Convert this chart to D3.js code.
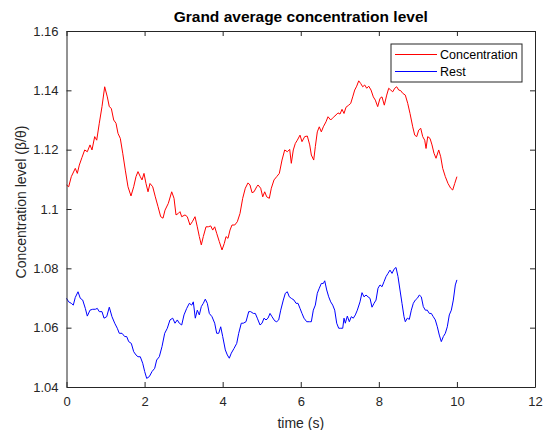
<!DOCTYPE html>
<html>
<head>
<meta charset="utf-8">
<script src="https://cdn.jsdelivr.net/npm/d3@7"></script>
<style>
  body { margin: 0; background: #fff; }
  text { font-family: "Liberation Sans", Arial, sans-serif; fill: #262626; }
</style>
</head>
<body>
<div id="chart"></div>
<script>
// chart values
var concTime = [0.00,0.056,0.123,0.225,0.277,0.328,0.397,0.466,0.533,0.602,0.653,0.722,0.774,0.840,0.909,0.978,1.045,1.096,1.148,1.209,1.268,1.319,1.378,1.440,1.506,1.575,1.652,1.721,1.780,1.831,1.890,1.934,1.985,2.036,2.088,2.139,2.208,2.275,2.344,2.413,2.472,2.523,2.608,2.695,2.754,2.805,2.864,2.907,2.951,3.035,3.094,3.163,3.222,3.292,3.350,3.402,3.453,3.504,3.573,3.632,3.694,3.745,3.796,3.847,3.914,3.983,4.042,4.086,4.137,4.188,4.239,4.308,4.375,4.444,4.513,4.580,4.649,4.700,4.752,4.803,4.872,4.905,4.974,5.026,5.077,5.128,5.195,5.246,5.315,5.384,5.451,5.520,5.589,5.656,5.717,5.758,5.809,5.861,5.912,5.981,6.032,6.101,6.168,6.230,6.271,6.332,6.373,6.424,6.475,6.527,6.578,6.647,6.698,6.767,6.834,6.903,6.954,7.006,7.057,7.108,7.159,7.228,7.280,7.331,7.382,7.433,7.485,7.536,7.587,7.638,7.690,7.741,7.800,7.859,7.910,7.971,8.030,8.081,8.140,8.202,8.253,8.304,8.356,8.407,8.458,8.509,8.560,8.612,8.678,8.740,8.799,8.868,8.919,8.970,9.022,9.073,9.124,9.175,9.209,9.252,9.311,9.362,9.413,9.465,9.534,9.585,9.636,9.703,9.772,9.841,9.892,9.944,10.00];
var concLevel = [1.1081,1.1075,1.1109,1.1137,1.1120,1.1148,1.1174,1.1199,1.1193,1.1216,1.1199,1.1244,1.1232,1.1289,1.1345,1.1412,1.1378,1.1345,1.1339,1.1300,1.1289,1.1255,1.1238,1.1188,1.1131,1.1075,1.1044,1.1075,1.1109,1.1126,1.1109,1.1098,1.1120,1.1086,1.1058,1.1086,1.1075,1.1041,1.1008,1.0974,1.0969,1.0996,1.1019,1.1058,1.1036,1.0980,1.0985,1.0991,1.0974,1.0980,1.0974,1.0946,1.0957,1.0974,1.0940,1.0907,1.0879,1.0907,1.0940,1.0940,1.0943,1.0929,1.0940,1.0918,1.0890,1.0862,1.0884,1.0907,1.0901,1.0929,1.0946,1.0946,1.0957,1.0985,1.1036,1.1070,1.1088,1.1081,1.1055,1.1058,1.1075,1.1081,1.1070,1.1041,1.1058,1.1041,1.1036,1.1070,1.1098,1.1109,1.1120,1.1165,1.1199,1.1193,1.1201,1.1154,1.1199,1.1221,1.1232,1.1249,1.1227,1.1244,1.1246,1.1216,1.1182,1.1165,1.1210,1.1260,1.1277,1.1260,1.1277,1.1294,1.1311,1.1300,1.1309,1.1317,1.1324,1.1320,1.1336,1.1322,1.1343,1.1350,1.1356,1.1378,1.1401,1.1414,1.1432,1.1423,1.1412,1.1418,1.1407,1.1414,1.1401,1.1378,1.1367,1.1345,1.1373,1.1378,1.1350,1.1384,1.1407,1.1401,1.1395,1.1407,1.1412,1.1401,1.1399,1.1390,1.1384,1.1356,1.1322,1.1277,1.1249,1.1244,1.1266,1.1272,1.1244,1.1232,1.1204,1.1244,1.1238,1.1216,1.1188,1.1171,1.1199,1.1176,1.1137,1.1109,1.1086,1.1070,1.1064,1.1086,1.1109];

var restTime = [0.00,0.056,0.123,0.174,0.225,0.295,0.353,0.415,0.482,0.533,0.602,0.671,0.738,0.789,0.840,0.909,0.961,1.030,1.096,1.165,1.235,1.301,1.352,1.422,1.491,1.542,1.593,1.660,1.721,1.780,1.831,1.890,1.952,2.003,2.054,2.121,2.190,2.259,2.310,2.377,2.446,2.515,2.582,2.651,2.720,2.779,2.838,2.889,2.951,3.010,3.079,3.146,3.207,3.248,3.299,3.350,3.402,3.453,3.504,3.555,3.607,3.658,3.727,3.796,3.847,3.899,3.950,4.001,4.068,4.119,4.170,4.221,4.291,4.360,4.411,4.477,4.529,4.598,4.667,4.718,4.785,4.836,4.887,4.957,5.008,5.059,5.110,5.161,5.213,5.264,5.333,5.384,5.435,5.487,5.553,5.605,5.656,5.707,5.758,5.827,5.879,5.930,5.981,6.032,6.083,6.153,6.219,6.271,6.322,6.373,6.424,6.475,6.527,6.578,6.614,6.665,6.716,6.767,6.819,6.870,6.921,6.972,7.024,7.075,7.108,7.141,7.193,7.244,7.295,7.346,7.398,7.449,7.518,7.569,7.620,7.672,7.723,7.774,7.825,7.877,7.928,7.979,8.030,8.082,8.133,8.184,8.235,8.286,8.338,8.389,8.440,8.491,8.542,8.593,8.645,8.678,8.730,8.781,8.832,8.883,8.934,8.986,9.037,9.088,9.139,9.191,9.242,9.293,9.344,9.395,9.447,9.498,9.549,9.600,9.652,9.703,9.754,9.805,9.857,9.908,9.959,10.00];
var restLevel = [1.0699,1.0687,1.0682,1.0676,1.0702,1.0721,1.0699,1.0693,1.0665,1.0639,1.0659,1.0662,1.0662,1.0665,1.0654,1.0654,1.0632,1.0637,1.0669,1.0637,1.0615,1.0598,1.0581,1.0581,1.0570,1.0570,1.0553,1.0547,1.0519,1.0508,1.0502,1.0502,1.0480,1.0452,1.0429,1.0435,1.0452,1.0463,1.0491,1.0502,1.0536,1.0581,1.0598,1.0626,1.0632,1.0615,1.0626,1.0615,1.0609,1.0643,1.0665,1.0682,1.0676,1.0687,1.0632,1.0659,1.0643,1.0671,1.0682,1.0696,1.0682,1.0648,1.0637,1.0615,1.0581,1.0581,1.0603,1.0570,1.0525,1.0508,1.0497,1.0514,1.0530,1.0547,1.0581,1.0615,1.0615,1.0620,1.0654,1.0654,1.0648,1.0648,1.0632,1.0609,1.0615,1.0632,1.0626,1.0632,1.0648,1.0637,1.0623,1.0620,1.0626,1.0659,1.0693,1.0716,1.0721,1.0704,1.0699,1.0693,1.0682,1.0682,1.0665,1.0648,1.0632,1.0620,1.0620,1.0620,1.0659,1.0676,1.0716,1.0733,1.0749,1.0749,1.0758,1.0727,1.0704,1.0687,1.0676,1.0659,1.0615,1.0598,1.0598,1.0598,1.0632,1.0615,1.0639,1.0620,1.0637,1.0632,1.0643,1.0659,1.0687,1.0718,1.0704,1.0710,1.0704,1.0699,1.0669,1.0682,1.0693,1.0733,1.0744,1.0738,1.0755,1.0772,1.0783,1.0794,1.0783,1.0797,1.0803,1.0772,1.0727,1.0682,1.0637,1.0620,1.0632,1.0628,1.0659,1.0682,1.0693,1.0699,1.0710,1.0704,1.0671,1.0659,1.0659,1.0648,1.0648,1.0637,1.0626,1.0603,1.0575,1.0553,1.0570,1.0581,1.0603,1.0643,1.0659,1.0693,1.0744,1.0761];

var xTicks = [0, 2, 4, 6, 8, 10, 12];
var yTicks = [1.04, 1.06, 1.08, 1.1, 1.12, 1.14, 1.16];
var seriesNames = ["Concentration", "Rest"];
var seriesColors = ["#ff0000", "#0000ff"];

var svgWidth = 547;
var svgHeight = 430;

var margin = { top: 31, right: 12, bottom: 43, left: 66.5 };
var width = svgWidth - margin.left - margin.right;
var height = svgHeight - margin.top - margin.bottom;

var svg = d3.select("#chart")
  .append("svg")
  .attr("width", svgWidth)
  .attr("height", svgHeight);

var chartGroup = svg.append("g")
  .attr("transform", `translate(${margin.left}, ${margin.top})`);

var xScale = d3.scaleLinear().domain([0, 12]).range([0, width]);
var yScale = d3.scaleLinear().domain([1.04, 1.16]).range([height, 0]);

// axes on all four sides, ticks pointing in
var bottomAxis = d3.axisBottom(xScale).tickValues(xTicks).tickSizeInner(-5).tickSizeOuter(0).tickPadding(10).tickFormat(d => d);
var topAxis = d3.axisTop(xScale).tickValues(xTicks).tickSizeInner(-5).tickSizeOuter(0).tickFormat("");
var leftAxis = d3.axisLeft(yScale).tickValues(yTicks).tickSizeInner(-5).tickSizeOuter(0).tickPadding(8).tickFormat(d => d);
var rightAxis = d3.axisRight(yScale).tickValues(yTicks).tickSizeInner(-5).tickSizeOuter(0).tickFormat("");

function styleAxis(g) {
  g.select(".domain").attr("stroke", "#262626");
  g.selectAll(".tick line").attr("stroke", "#262626");
  g.selectAll(".tick text")
    .attr("fill", "#404040")
    .style("font-family", "'Liberation Sans', Arial, sans-serif")
    .style("font-size", "13px");
}

// data lines
var line = d3.line()
  .x(d => xScale(d[0]))
  .y(d => yScale(d[1]));

var concData = concTime.map((t, i) => [t, concLevel[i]]);
var restData = restTime.map((t, i) => [t, restLevel[i]]);

chartGroup.append("path")
  .datum(concData)
  .attr("fill", "none")
  .attr("stroke", seriesColors[0])
  .attr("stroke-width", 1)
  .attr("d", line);

chartGroup.append("path")
  .datum(restData)
  .attr("fill", "none")
  .attr("stroke", seriesColors[1])
  .attr("stroke-width", 1)
  .attr("d", line);

chartGroup.append("g")
  .attr("transform", `translate(0, ${height})`)
  .call(bottomAxis)
  .call(styleAxis);

chartGroup.append("g")
  .call(topAxis)
  .call(styleAxis);

chartGroup.append("g")
  .call(leftAxis)
  .call(styleAxis);

chartGroup.append("g")
  .attr("transform", `translate(${width}, 0)`)
  .call(rightAxis)
  .call(styleAxis);

// title and axis labels
svg.append("text")
  .attr("x", margin.left + width / 2)
  .attr("y", 22)
  .attr("text-anchor", "middle")
  .style("font-size", "15.5px")
  .style("font-weight", "bold")
  .style("fill", "#000")
  .text("Grand average concentration level");

svg.append("text")
  .attr("x", margin.left + width / 2)
  .attr("y", 428)
  .attr("text-anchor", "middle")
  .style("font-size", "14px")
  .text("time (s)");

svg.append("text")
  .attr("transform", "translate(26, 202) rotate(-90)")
  .attr("text-anchor", "middle")
  .style("font-size", "14px")
  .text("Concentration level (β/θ)");

// legend
var legend = svg.append("g")
  .attr("transform", "translate(391, 44)");

legend.append("rect")
  .attr("width", 131)
  .attr("height", 38)
  .attr("fill", "#fff")
  .attr("stroke", "#262626")
  .attr("stroke-width", 1);

seriesNames.forEach(function(name, i) {
  var row = legend.append("g").attr("transform", `translate(0, ${10.5 + i * 17})`);
  row.append("line")
    .attr("x1", 4).attr("x2", 46)
    .attr("stroke", seriesColors[i])
    .attr("stroke-width", 1);
  row.append("text")
    .attr("x", 49)
    .attr("dy", "0.35em")
    .style("font-size", "12.5px")
    .style("fill", "#000")
    .text(name);
});
</script>
</body>
</html>
